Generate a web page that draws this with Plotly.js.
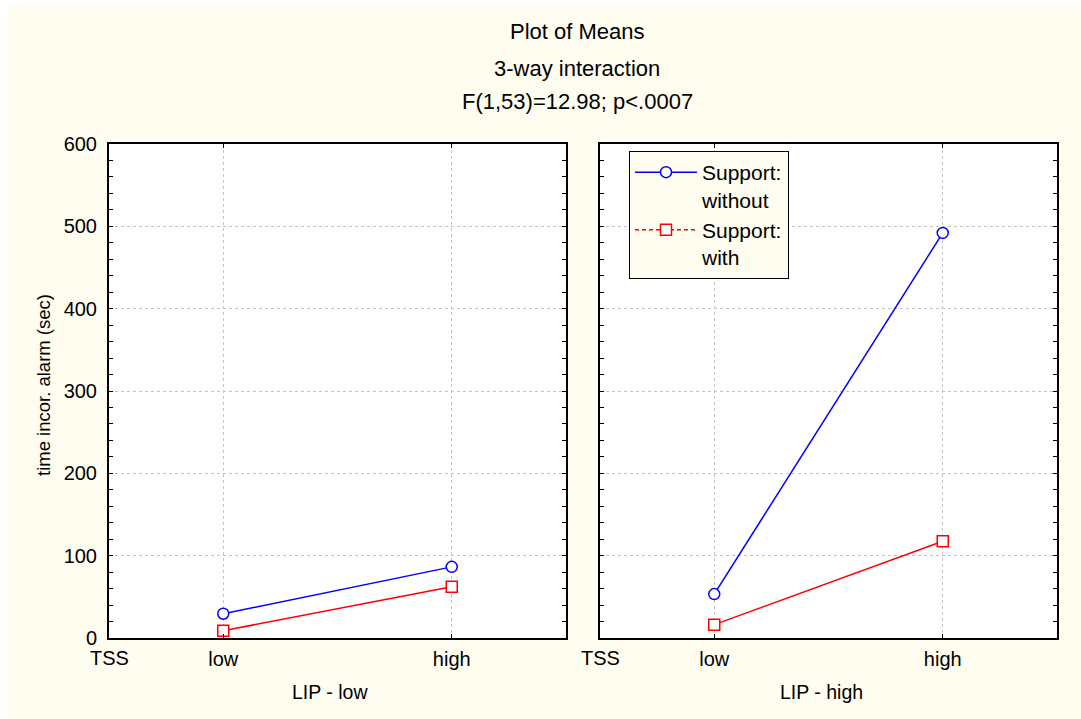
<!DOCTYPE html>
<html>
<head>
<meta charset="utf-8">
<script src="https://cdn.plot.ly/plotly-3.0.1.min.js"></script>
<style>
  html, body { margin: 0; padding: 0; background: #ffffff; width: 1081px; height: 719px; overflow: hidden; }
  #chart { position: absolute; left: 8px; top: 5px; width: 1073px; height: 714px; }
</style>
</head>
<body>
<div id="chart"></div>
<script>
// ---- data ----
const categories = ['low', 'high'];
const seriesNames = ['Support:<br>without', 'Support:<br>with'];
const lipLowWithout = [29.5, 86.4];
const lipLowWith = [8.9, 62.2];
const lipHighWithout = [53.3, 492];
const lipHighWith = [16.2, 117.6];
const yRange = [0, 600];
const titleLines = ['Plot of Means', '3-way interaction', 'F(1,53)=12.98; p<.0007'];
const panelTitles = ['LIP - low', 'LIP - high'];
const factorLabel = 'TSS';
const yTitle = 'time incor. alarm (sec)';

const FONT = 'Arial, "Liberation Sans", sans-serif';
const CREAM = '#fffdf0';
const BLUE = '#0000ff';
const RED = '#ff0000';

const W = 1073, H = 714;
const px = v => v / W;
const py = v => 1 - v / H;

const xd1 = [px(101), px(558)];
const xd2 = [px(592), px(1049)];
const yd = [py(633), py(139)];

function markerStyle(color, symbol) {
  return { symbol: symbol, size: 11, color: '#ffffff', line: { color: color, width: 1.5 } };
}

function lineTrace(x, y, color, symbol, xa, ya, name) {
  return {
    type: 'scatter', mode: 'lines+markers', x: x, y: y, xaxis: xa, yaxis: ya,
    name: name, showlegend: false, cliponaxis: false,
    line: { color: color, width: 1.5 },
    marker: markerStyle(color, symbol)
  };
}

const traces = [
  lineTrace(categories, lipLowWithout, BLUE, 'circle', 'x', 'y', seriesNames[0]),
  lineTrace(categories, lipLowWith, RED, 'square', 'x', 'y', seriesNames[1]),
  lineTrace(categories, lipHighWithout, BLUE, 'circle', 'x2', 'y2', seriesNames[0]),
  lineTrace(categories, lipHighWith, RED, 'square', 'x2', 'y2', seriesNames[1]),
  // legend-only entries
  { type: 'scatter', mode: 'lines+markers', x: [null], y: [null], xaxis: 'x2', yaxis: 'y2',
    name: seriesNames[0], showlegend: true,
    line: { color: BLUE, width: 1.5 }, marker: markerStyle(BLUE, 'circle') },
  { type: 'scatter', mode: 'lines+markers', x: [null], y: [null], xaxis: 'x2', yaxis: 'y2',
    name: seriesNames[1], showlegend: true,
    line: { color: RED, width: 1.5, dash: '4px,3px' }, marker: markerStyle(RED, 'square') }
];

function xAxis(domain, anchor) {
  return {
    domain: domain, anchor: anchor, type: 'category',
    categoryorder: 'array', categoryarray: categories,
    range: [-0.5, categories.length - 0.5],
    showline: true, linecolor: '#000000', linewidth: 2, mirror: 'allticks',
    ticks: 'inside', ticklen: 4, tickcolor: '#000000', tickwidth: 1,
    showgrid: true, gridcolor: '#c4c4c4', griddash: 'dot', gridwidth: 1,
    zeroline: false, fixedrange: true,
    tickfont: { family: FONT, size: 20, color: '#000000' },
    ticklabelstandoff: 2
  };
}
function yAxis(domain, anchor, labels) {
  return {
    domain: domain, anchor: anchor, range: yRange,
    tickmode: 'linear', tick0: 0, dtick: 100, showticklabels: labels,
    showline: true, linecolor: '#000000', linewidth: 2, mirror: 'allticks',
    ticks: 'inside', ticklen: 4, tickcolor: '#000000', tickwidth: 1,
    minor: { tickmode: 'linear', tick0: 0, dtick: 20, ticks: 'inside', ticklen: 4, tickcolor: '#000000', tickwidth: 1, showgrid: false },
    showgrid: true, gridcolor: '#c4c4c4', griddash: 'dot', gridwidth: 1,
    zeroline: false, fixedrange: true,
    tickfont: { family: FONT, size: 20, color: '#000000' },
    ticklabelstandoff: 6
  };
}

const annotations = [];
const titleY = [27, 63, 97];
titleLines.forEach((t, i) => annotations.push({
  text: t, xref: 'paper', yref: 'paper', x: px(569), y: py(titleY[i]),
  xanchor: 'center', yanchor: 'middle', showarrow: false,
  font: { family: FONT, size: 22, color: '#000000' }
}));
const panelX = [322, 813];
panelTitles.forEach((t, i) => annotations.push({
  text: t, xref: 'paper', yref: 'paper', x: px(panelX[i]), y: py(687),
  xanchor: 'center', yanchor: 'middle', showarrow: false,
  font: { family: FONT, size: 19.5, color: '#000000' }
}));
[xd1[0], xd2[0]].forEach(xx => annotations.push({
  text: factorLabel, xref: 'paper', yref: 'paper', x: xx, y: py(653),
  xanchor: 'center', yanchor: 'middle', showarrow: false,
  font: { family: FONT, size: 20, color: '#000000' }
}));
annotations.push({
  text: yTitle, xref: 'paper', yref: 'paper', x: px(35), y: py(380),
  xanchor: 'center', yanchor: 'middle', showarrow: false, textangle: -90,
  font: { family: FONT, size: 18.5, color: '#000000' }
});

const layout = {
  width: W, height: H,
  margin: { l: 0, r: 0, t: 0, b: 0, pad: 0 },
  paper_bgcolor: CREAM, plot_bgcolor: '#ffffff',
  font: { family: FONT, color: '#000000' },
  showlegend: true,
  legend: {
    x: px(621), y: py(146), xanchor: 'left', yanchor: 'top',
    bgcolor: CREAM, bordercolor: '#000000', borderwidth: 1,
    font: { family: FONT, size: 21, color: '#000000' },
    valign: 'top', tracegroupgap: 0, itemwidth: 62,
    itemclick: false, itemdoubleclick: false
  },
  xaxis: xAxis(xd1, 'y'),
  yaxis: yAxis(yd, 'x', true),
  xaxis2: xAxis(xd2, 'y2'),
  yaxis2: yAxis(yd, 'x2', false),
  annotations: annotations
};

Plotly.newPlot('chart', traces, layout, { staticPlot: true, displayModeBar: false });
</script>
</body>
</html>
